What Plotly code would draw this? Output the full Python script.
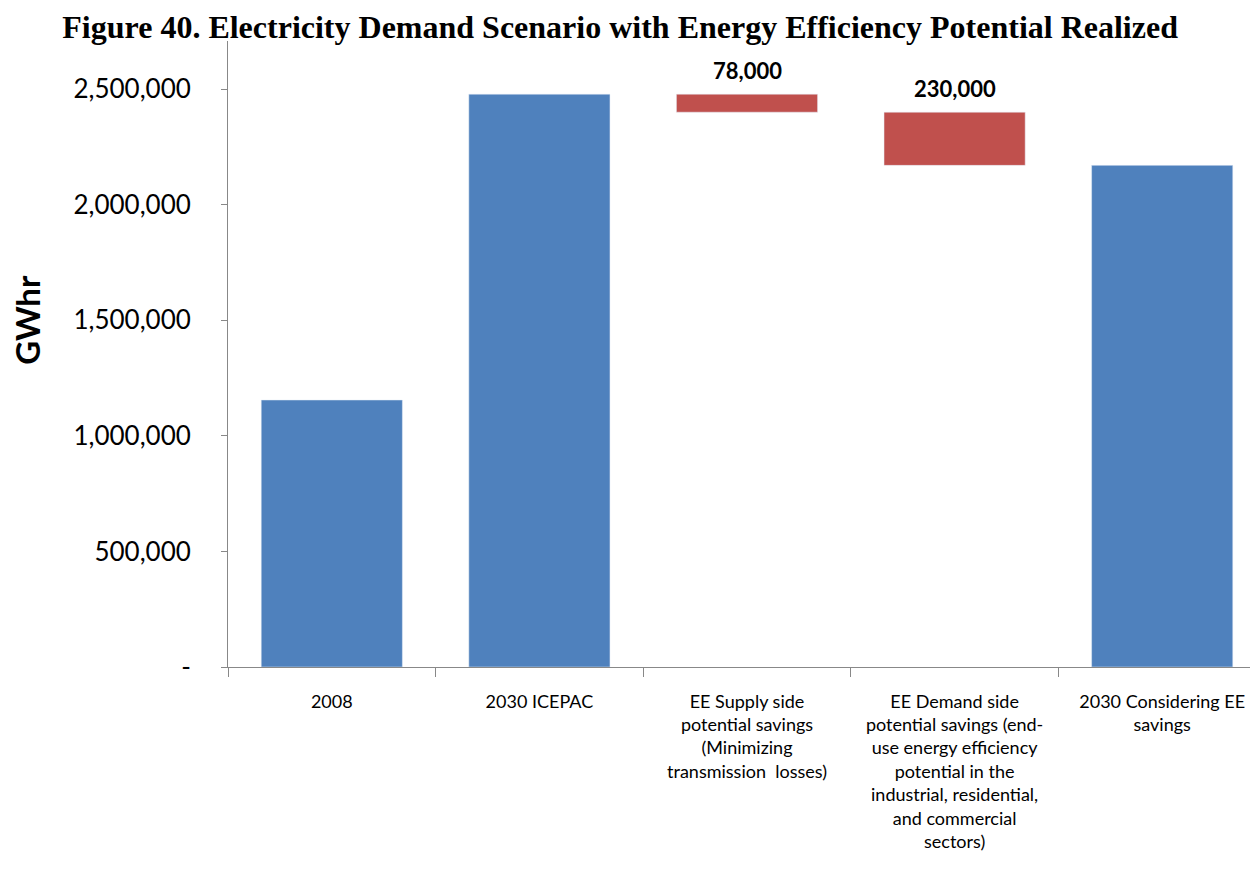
import plotly.graph_objects as go

# categories and values (GWhr)
categories = ["2008", "2030 ICEPAC",
              "EE Supply side<br>potential savings<br>(Minimizing<br>transmission  losses)",
              "EE Demand side<br>potential savings (end-<br>use energy efficiency<br>potential in the<br>industrial, residential,<br>and commercial<br>sectors)",
              "2030 Considering EE<br>savings"]
totals = [1155000, 2478000, None, None, 2170000]
savings = [None, None, 78000, 230000, None]
saving_labels = ["", "", "78,000", "230,000", ""]

# savings bars hang down from the previous level
base = []
level = totals[1]
for s in savings:
    if s is None:
        base.append(None)
    else:
        level = level - s
        base.append(level)

fig = go.Figure()
fig.add_trace(go.Bar(x=categories, y=totals, marker_color="#4F81BD", showlegend=False))
fig.add_trace(go.Bar(x=categories, y=savings, base=base, marker_color="#C0504D", showlegend=False))

# labels above the savings bars
notes = []
for c, s, b, lab in zip(categories, savings, base, saving_labels):
    if s is not None:
        notes.append(dict(text="<b>" + lab + "</b>", x=c, y=b + s, xref="x", yref="y",
                          yanchor="bottom", yshift=8, showarrow=False,
                          font=dict(family="Lato", size=22, color="black")))
notes.append(dict(text="<b>GWhr</b>", textangle=-90, xref="paper", yref="paper",
                  x=-0.193, y=0.554, xanchor="center", yanchor="middle", showarrow=False,
                  font=dict(family="Lato", size=33, color="black")))

fig.update_layout(
    width=1258, height=870,
    margin=dict(l=220, r=0, t=33, b=211),
    plot_bgcolor="white", paper_bgcolor="white",
    barmode="overlay", bargap=0.32,
    title=dict(text="<b>Figure 40. Electricity Demand Scenario with Energy Efficiency Potential Realized</b>",
               font=dict(family="Liberation Serif", size=32, color="black"),
               x=0.4866, xanchor="center", y=1 - 19 / 870, yref="container", yanchor="middle"),
    annotations=notes,
)

fig.update_yaxes(range=[0, 2708000],
                 tickvals=[0, 500000, 1000000, 1500000, 2000000, 2500000],
                 ticktext=["-", "500,000", "1,000,000", "1,500,000", "2,000,000", "2,500,000"],
                 tickfont=dict(family="Lato", size=26, color="black"),
                 showgrid=False, zeroline=False, showline=True, linecolor="#888888", linewidth=1,
                 ticks="outside", ticklen=6, tickcolor="#888888", ticklabelstandoff=25)
fig.update_xaxes(tickfont=dict(family="Lato", size=18, color="black"),
                 showline=True, linecolor="#888888", linewidth=1,
                 ticks="outside", ticklen=9, tickcolor="#888888", tickson="boundaries",
                 ticklabelstandoff=18, tickangle=0)

fig.write_html("out.html")
